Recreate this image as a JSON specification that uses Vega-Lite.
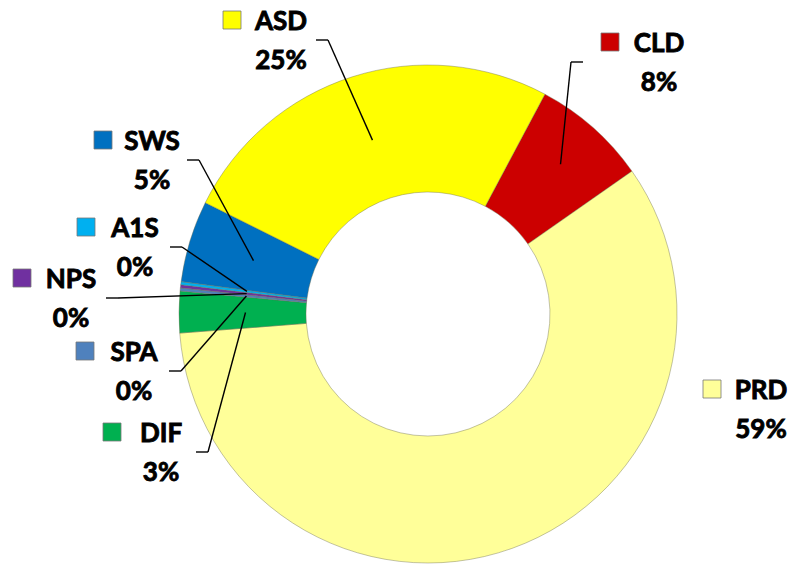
{
  "$schema": "https://vega.github.io/schema/vega-lite/v6.json",
  "width": 796,
  "height": 575,
  "autosize": "none",
  "padding": 0,
  "background": "white",
  "config": {"view": {"stroke": null}},
  "data": {
    "values": [
      {"cat": "CLD", "value": 7.5},
      {"cat": "PRD", "value": 58.5},
      {"cat": "DIF", "value": 2.7},
      {"cat": "SPA", "value": 0.2},
      {"cat": "NPS", "value": 0.2},
      {"cat": "A1S", "value": 0.2},
      {"cat": "SWS", "value": 5.3},
      {"cat": "ASD", "value": 25.4}
    ]
  },
  "transform": [
    {"window": [{"op": "row_number", "as": "idx"}]},
    {"joinaggregate": [{"op": "sum", "field": "value", "as": "total"}]},
    {"window": [{"op": "sum", "field": "value", "as": "cum"}], "sort": [{"field": "idx"}], "frame": [null, 0]},
    {"calculate": "0.48869 + 2 * PI * (datum.cum - datum.value / 2) / datum.total", "as": "mid"},
    {"calculate": "(datum.cat === 'CLD' ? 0.8 : 0.73) * sin(datum.mid)", "as": "px"},
    {"calculate": "(datum.cat === 'CLD' ? 0.8 : 0.73) * cos(datum.mid)", "as": "py"},
    {"calculate": "{ASD: -0.588, CLD: 0.924, PRD: 1.332, SWS: -1.104, A1S: -1.172, NPS: -1.428, SPA: -1.176, DIF: -1.068}[datum.cat]", "as": "lx"},
    {"calculate": "{ASD: 1.136, CLD: 1.048, PRD: -0.34, SWS: 0.656, A1S: 0.308, NPS: 0.104, SPA: -0.188, DIF: -0.512}[datum.cat]", "as": "ly"},
    {"calculate": "datum.lx > datum.px ? -1 : 1", "as": "side"},
    {"calculate": "datum.lx + (datum.side > 0 ? 35 : -76) / 250", "as": "sx0"},
    {"calculate": "datum.lx + (datum.side > 0 ? 47 : -88) / 250", "as": "sx"},
    {"calculate": "datum.ly - 10 / 250", "as": "sy"},
    {"calculate": "format(datum.value, '.0f') + '%'", "as": "pct"}
  ],
  "layer": [
    {
      "mark": {"type": "arc", "outerRadius": 249, "innerRadius": 122, "stroke": "#6f6f50", "strokeWidth": 0.7, "strokeOpacity": 0.6},
      "encoding": {
        "theta": {"field": "value", "type": "quantitative", "stack": true, "scale": {"range": [0.48869, 6.77188]}},
        "order": {"field": "idx", "type": "quantitative"},
        "color": {
          "field": "cat", "type": "nominal", "legend": null,
          "scale": {
            "domain": ["CLD", "PRD", "DIF", "SPA", "NPS", "A1S", "SWS", "ASD"],
            "range": ["#CC0000", "#FFFF99", "#00B050", "#4F81BD", "#7030A0", "#00B0F0", "#0070C0", "#FFFF00"]
          }
        },
        "x": {"datum": 0, "type": "quantitative", "axis": null, "scale": {"domain": [-1.712, 1.472], "nice": false, "zero": false}},
        "y": {"datum": 0, "type": "quantitative", "axis": null, "scale": {"domain": [-1.044, 1.256], "nice": false, "zero": false}}
      }
    },
    {
      "transform": [{"filter": "datum.cat !== 'PRD'"}],
      "mark": {"type": "rule", "color": "black", "strokeWidth": 1.4},
      "encoding": {
        "x": {"field": "sx", "type": "quantitative", "axis": null, "scale": {"domain": [-1.712, 1.472], "nice": false, "zero": false}},
        "y": {"field": "sy", "type": "quantitative", "axis": null, "scale": {"domain": [-1.044, 1.256], "nice": false, "zero": false}},
        "x2": {"field": "px"},
        "y2": {"field": "py"}
      }
    },
    {
      "transform": [{"filter": "datum.cat !== 'PRD'"}],
      "mark": {"type": "rule", "color": "black", "strokeWidth": 1.4},
      "encoding": {
        "x": {"field": "sx0", "type": "quantitative", "axis": null, "scale": {"domain": [-1.712, 1.472], "nice": false, "zero": false}},
        "x2": {"field": "sx"},
        "y": {"field": "sy", "type": "quantitative", "axis": null, "scale": {"domain": [-1.044, 1.256], "nice": false, "zero": false}}
      }
    },
    {
      "mark": {"type": "point", "shape": "square", "filled": true, "size": 324, "xOffset": -49, "yOffset": -10, "stroke": "#777777", "strokeWidth": 0.8, "opacity": 1},
      "encoding": {
        "x": {"field": "lx", "type": "quantitative", "axis": null, "scale": {"domain": [-1.712, 1.472], "nice": false, "zero": false}},
        "y": {"field": "ly", "type": "quantitative", "axis": null, "scale": {"domain": [-1.044, 1.256], "nice": false, "zero": false}},
        "color": {"field": "cat", "type": "nominal", "legend": null}
      }
    },
    {
      "mark": {"type": "text", "font": "Lato", "fontWeight": "bold", "fontSize": 26, "align": "center", "baseline": "alphabetic", "color": "black", "stroke": "black", "strokeWidth": 0.9},
      "encoding": {
        "x": {"field": "lx", "type": "quantitative", "axis": null, "scale": {"domain": [-1.712, 1.472], "nice": false, "zero": false}},
        "y": {"field": "ly", "type": "quantitative", "axis": null, "scale": {"domain": [-1.044, 1.256], "nice": false, "zero": false}},
        "text": {"field": "cat"}
      }
    },
    {
      "mark": {"type": "text", "font": "Lato", "fontWeight": "bold", "fontSize": 26, "align": "center", "baseline": "alphabetic", "color": "black", "stroke": "black", "strokeWidth": 0.9, "dy": 39},
      "encoding": {
        "x": {"field": "lx", "type": "quantitative", "axis": null, "scale": {"domain": [-1.712, 1.472], "nice": false, "zero": false}},
        "y": {"field": "ly", "type": "quantitative", "axis": null, "scale": {"domain": [-1.044, 1.256], "nice": false, "zero": false}},
        "text": {"field": "pct"}
      }
    }
  ]
}
